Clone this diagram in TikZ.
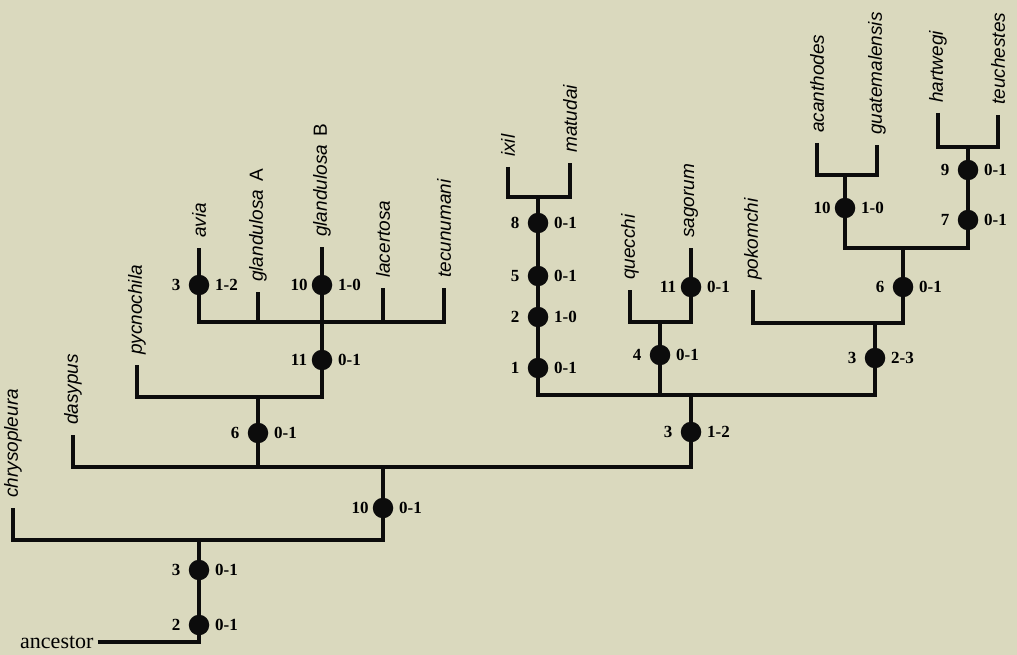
\documentclass[tikz,border=0pt]{standalone}
\usepackage{fontspec}
\setmainfont{Liberation Serif}
\newfontfamily\taxfont{Liberation Sans}
\usepackage{tikz}
\definecolor{cPapier}{RGB}{218,217,190}
\definecolor{cAst}{RGB}{12,12,12}

\begin{document}
\begin{tikzpicture}[x=1pt,y=-1pt,
  ast/.style={draw=cAst,line width=3.4pt},
  taxon/.style={rotate=90,xshift=10pt,anchor=west,inner sep=0pt,font=\taxfont\itshape\fontsize{19}{19}\selectfont},
  merkmal/.style={circle,fill=cAst,inner sep=0pt,minimum size=20.5pt},
  schritt/.style={inner sep=0pt,font=\bfseries\fontsize{17}{17}\selectfont}]
\useasboundingbox[fill=cPapier] (0,0) rectangle (1017,655);
\node[anchor=base west,inner sep=4pt,font=\fontsize{22}{22}\selectfont] (anc) at (16,648) {ancestor};
\coordinate (tChry) at (13,508);  \coordinate (tDasy) at (73,435);  \coordinate (tPycn) at (137,365);
\coordinate (tAvia) at (199,248); \coordinate (tGlaA) at (258,292); \coordinate (tGlaB) at (322,247);
\coordinate (tLace) at (383,288); \coordinate (tTecu) at (444,288);
\coordinate (tIxil) at (508,167); \coordinate (tMatu) at (570,163);
\coordinate (tQuec) at (630,290); \coordinate (tSago) at (691,248); \coordinate (tPoko) at (753,290);
\coordinate (tAcan) at (817,143); \coordinate (tGuat) at (877,145);
\coordinate (tHart) at (938,113); \coordinate (tTeuc) at (998,115);
\coordinate (jRoot) at (199,540); \coordinate (jA) at (383,467); \coordinate (jB) at (691,395);
\coordinate (jC) at (258,397); \coordinate (jD) at (322,322); \coordinate (jE) at (538,197);
\coordinate (jF) at (875,323); \coordinate (jG) at (660,322); \coordinate (jH) at (903,248);
\coordinate (jI) at (845,175); \coordinate (jJ) at (968,147);
\draw[ast] (anc.east) -| (jRoot);
\draw[ast] (tChry) |- (jRoot) -| (jA);
\draw[ast] (tDasy) |- (jA) -| (jB);
\draw[ast] (jC) -- (jC |- jA);
\draw[ast] (tPycn) |- (jC) -| (tGlaB);
\draw[ast] (tAvia) |- (jD) -| (tTecu);
\draw[ast] (tGlaA) -- (tGlaA |- jD);
\draw[ast] (tLace) -- (tLace |- jD);
\draw[ast] (jE) |- (jB) -| (jF);
\draw[ast] (tIxil) |- (jE) -| (tMatu);
\draw[ast] (tQuec) |- (jG) -| (tSago);
\draw[ast] (jG) -- (jG |- jB);
\draw[ast] (tPoko) |- (jF) -| (jH);
\draw[ast] (jI) |- (jH) -| (jJ);
\draw[ast] (tAcan) |- (jI) -| (tGuat);
\draw[ast] (tHart) |- (jJ) -| (tTeuc);
\foreach \px/\py/\li/\re [count=\k] in {199/625/2/0-1, 199/570/3/0-1, 383/508/10/0-1, 258/433/6/0-1,
    322/360/11/0-1, 199/285/3/1-2, 322/285/10/1-0, 691/432/3/1-2, 538/368/1/0-1, 538/317/2/1-0,
    538/276/5/0-1, 538/223/8/0-1, 660/355/4/0-1, 691/287/11/0-1, 875/358/3/2-3, 903/287/6/0-1,
    845/208/10/1-0, 968/220/7/0-1, 968/170/9/0-1}
  {\node[merkmal] (dot\k) at (\px,\py) {};
   \node[schritt,xshift=-23pt] (li\k) at (dot\k) {\li};
   \node[schritt,anchor=west,xshift=16pt] (re\k) at (dot\k) {\re};}
\node[taxon] (nChry) at (tChry) {chrysopleura};
\node[taxon] (nDasy) at (tDasy) {dasypus};
\node[taxon] (nPycn) at (tPycn) {pycnochila};
\node[taxon] (nAvia) at (tAvia) {avia};
\node[taxon] (nGlaA) at (tGlaA) {glandulosa\hspace{0.45em}\textup{A}};
\node[taxon] (nGlaB) at (tGlaB) {glandulosa\hspace{0.45em}\textup{B}};
\node[taxon] (nLace) at (tLace) {lacertosa};
\node[taxon] (nTecu) at (tTecu) {tecunumani};
\node[taxon] (nIxil) at (tIxil) {ixil};
\node[taxon] (nMatu) at (tMatu) {matudai};
\node[taxon] (nQuec) at (tQuec) {quecchi};
\node[taxon] (nSago) at (tSago) {sagorum};
\node[taxon] (nPoko) at (tPoko) {pokomchi};
\node[taxon] (nAcan) at (tAcan) {acanthodes};
\node[taxon] (nGuat) at (tGuat) {guatemalensis};
\node[taxon] (nHart) at (tHart) {hartwegi};
\node[taxon] (nTeuc) at (tTeuc) {teuchestes};
\end{tikzpicture}
\end{document}
